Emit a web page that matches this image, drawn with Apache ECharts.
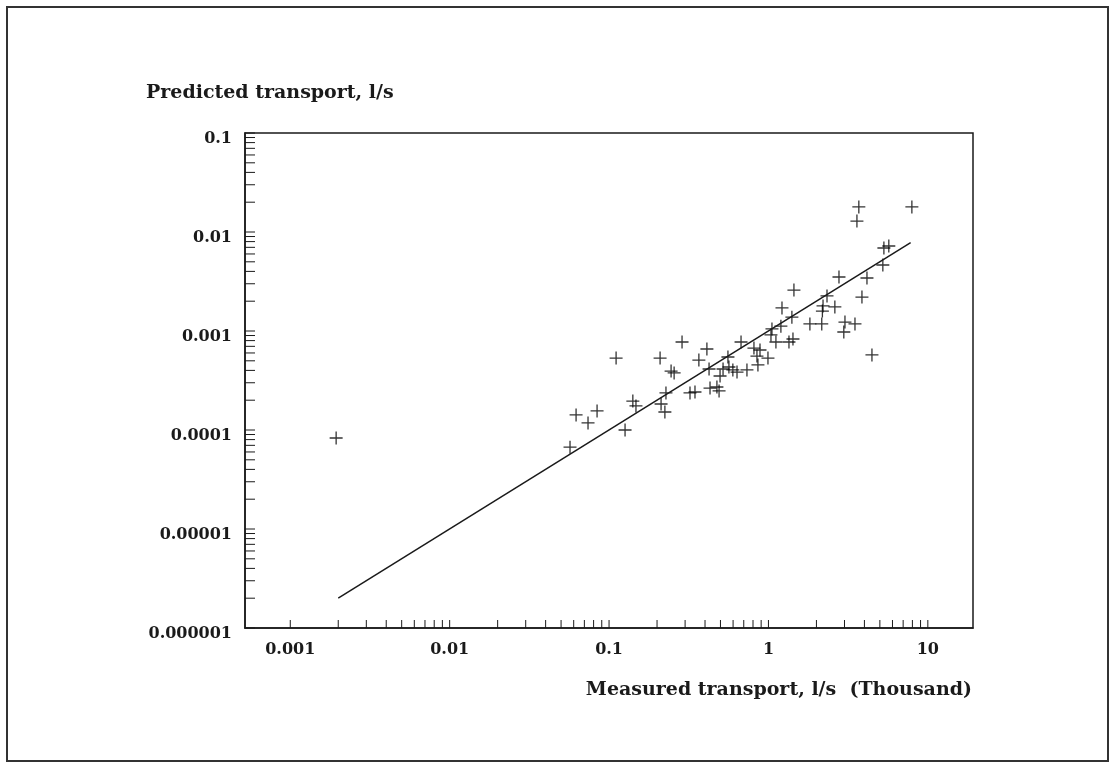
<!DOCTYPE html>
<html><head><meta charset="utf-8">
<script src="https://cdn.jsdelivr.net/npm/echarts@6/dist/echarts.min.js"></script>
<style>html,body{margin:0;padding:0;background:#fff}#c{width:1110px;height:762px}</style>
</head><body><div id="c"></div>
<script>
// Measured transport (thousand l/s) and predicted transport (l/s)
const measured = [
  0.00194, 0.0569, 0.0621, 0.0738, 0.0841, 0.1107, 0.126, 0.141, 0.1475, 0.209,
  0.212, 0.224, 0.2275, 0.245, 0.256, 0.287, 0.322, 0.346, 0.366, 0.411,
  0.424, 0.430, 0.475, 0.490, 0.497, 0.519, 0.557, 0.565, 0.598, 0.635,
  0.673, 0.733, 0.811, 0.885, 0.847, 0.859, 0.993, 1.052, 1.037, 1.114,
  1.216, 1.403, 1.445, 1.197, 1.345, 1.425, 1.82, 2.16, 2.20, 2.18,
  2.33, 2.61, 2.77, 2.97, 3.02, 3.49, 3.59, 3.69, 3.86, 4.15,
  4.46, 5.22, 5.30, 5.69, 7.94
];
const predicted = [
  8.3e-5, 6.7e-5, 1.42e-4, 1.18e-4, 1.56e-4, 5.33e-4, 1.0e-4, 1.96e-4, 1.75e-4, 5.33e-4,
  1.83e-4, 1.52e-4, 2.37e-4, 3.94e-4, 3.77e-4, 7.74e-4, 2.37e-4, 2.42e-4, 5.09e-4, 6.58e-4,
  4.13e-4, 2.65e-4, 2.72e-4, 2.48e-4, 3.51e-4, 4.13e-4, 5.46e-4, 4.33e-4, 4.04e-4, 3.85e-4,
  7.74e-4, 4.04e-4, 6.73e-4, 6.43e-4, 5.58e-4, 4.54e-4, 5.33e-4, 1.05e-3, 9.12e-4, 7.74e-4,
  1.71e-3, 1.38e-3, 2.59e-3, 1.12e-3, 7.74e-4, 8.3e-4, 1.18e-3, 1.18e-3, 1.79e-3, 1.59e-3,
  2.26e-3, 1.75e-3, 3.51e-3, 9.77e-4, 1.23e-3, 1.18e-3, 0.0129, 0.0179, 2.20e-3, 3.43e-3,
  5.73e-4, 4.64e-3, 6.89e-3, 7.22e-3, 0.0179
];
// Fitted line end points
const fitX = [0.002, 7.8];
const fitY = [0.000002, 0.0078];
// Tick labels
const xTickValues = [0.001, 0.01, 0.1, 1, 10];
const xTickLabels = ['0.001', '0.01', '0.1', '1', '10'];
const yTickValues = [0.000001, 0.00001, 0.0001, 0.001, 0.01, 0.1];
const yTickLabels = ['0.000001', '0.00001', '0.0001', '0.001', '0.01', '0.1'];
const titleText = 'Predicted transport, l/s';
const xAxisName = 'Measured transport, l/s  (Thousand)';

const X_MIN = 0.00052, X_MAX = 19.2, Y_MIN = 0.000001, Y_MAX = 0.1;
const INK = '#1a1a1a';
const FONT = 'DejaVu Serif';

function labelFor(values, labels) {
  return function (v) {
    for (let i = 0; i < values.length; i++) {
      if (Math.abs(Math.log10(v) - Math.log10(values[i])) < 1e-6) return labels[i];
    }
    return '';
  };
}
function minorTicks(values) {
  const out = [];
  for (let i = 0; i < values.length; i++) {
    out.push(values[i]);
    if (i < values.length - 1) for (let k = 2; k <= 9; k++) out.push(values[i] * k);
  }
  return out;
}
const xTicks = minorTicks(xTickValues).map(v => [v, Y_MIN]);
const yTicks = minorTicks(yTickValues).map(v => [X_MIN, v]);
const points = measured.map((m, i) => [m, predicted[i]]);
const fitLine = fitX.map((x, i) => [x, fitY[i]]);

const chart = echarts.init(document.getElementById('c'), null, {renderer: 'canvas'});
chart.setOption({
  animation: false,
  backgroundColor: '#fff',
  grid: {left: 245, top: 133, right: 137, bottom: 134, show: true, borderColor: INK, borderWidth: 1.5, backgroundColor: 'transparent'},
  xAxis: {
    type: 'log', logBase: 10, min: X_MIN, max: X_MAX,
    axisLine: {lineStyle: {color: INK, width: 1.5}},
    axisTick: {show: false}, splitLine: {show: false}, minorTick: {show: false},
    axisLabel: {interval: 0, margin: 14, color: INK, fontFamily: FONT, fontWeight: 'bold', fontSize: 16, formatter: labelFor(xTickValues, xTickLabels)}
  },
  yAxis: {
    type: 'log', logBase: 10, min: Y_MIN, max: Y_MAX,
    axisLine: {lineStyle: {color: INK, width: 1.5}},
    axisTick: {show: false}, splitLine: {show: false}, minorTick: {show: false},
    axisLabel: {interval: 0, margin: 13, verticalAlign: 'top', lineHeight: 12, color: INK, fontFamily: FONT, fontWeight: 'bold', fontSize: 16, formatter: labelFor(yTickValues, yTickLabels)}
  },
  graphic: [
    {type: 'rect', shape: {x: 7, y: 7, width: 1101, height: 754}, style: {fill: 'none', stroke: '#333', lineWidth: 2}, silent: true, z: 100},
    {type: 'text', left: 146, top: 84, style: {text: titleText, fill: INK, font: 'bold 19px "DejaVu Serif"'}},
    {type: 'text', right: 138, top: 681, style: {text: xAxisName, fill: INK, font: 'bold 19px "DejaVu Serif"'}}
  ],
  series: [
    {
      type: 'custom', data: xTicks, clip: false, silent: true,
      renderItem: (params, api) => {
        const p = api.coord([api.value(0), api.value(1)]);
        return {type: 'line', shape: {x1: p[0], y1: p[1], x2: p[0], y2: p[1] - 8}, style: {stroke: INK, lineWidth: 1}};
      }
    },
    {
      type: 'custom', data: yTicks, clip: false, silent: true,
      renderItem: (params, api) => {
        const p = api.coord([api.value(0), api.value(1)]);
        return {type: 'line', shape: {x1: p[0], y1: p[1], x2: p[0] + 10, y2: p[1]}, style: {stroke: INK, lineWidth: 1}};
      }
    },
    {
      type: 'line', data: fitLine, showSymbol: false, symbol: 'none',
      lineStyle: {color: INK, width: 1.5}
    },
    {
      type: 'scatter', data: points, symbol: 'path://M0,-1L0,1M-1,0L1,0', symbolSize: 13,
      itemStyle: {color: 'rgba(0,0,0,0)', borderColor: '#000', borderWidth: 1.3}
    }
  ]
});
</script></body></html>
